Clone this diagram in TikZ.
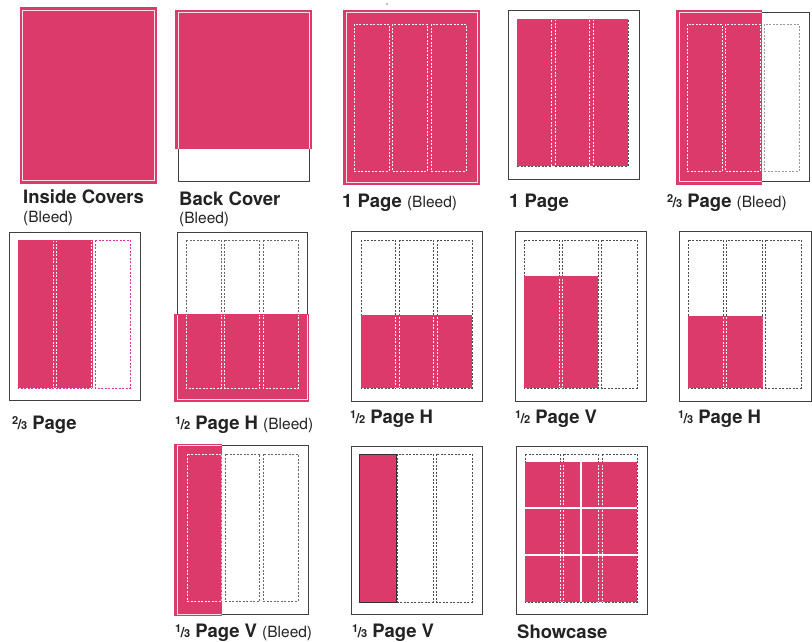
\documentclass[tikz,border=0pt]{standalone}
\usepackage{fontspec}
\setmainfont{TeX Gyre Heros}
\definecolor{pk}{RGB}{221,58,108}
\definecolor{mg}{RGB}{214,50,160}
\definecolor{txt}{RGB}{35,35,35}
\newcommand\dcols[5][black!70]{%
 \pgfmathsetmacro\cw{(#4-#2-7)/3}%
 \pgfmathsetmacro\xa{#2+\cw}%
 \pgfmathsetmacro\xb{#2+\cw+3.5}%
 \pgfmathsetmacro\xc{#2+2*\cw+3.5}%
 \pgfmathsetmacro\xd{#2+2*\cw+7}%
 \draw[dsh,draw=#1] (#2,#3) rectangle (\xa,#5) (\xb,#3) rectangle (\xc,#5) (\xd,#3) rectangle (#4,#5);}
\newcommand\frc[2]{{\fontsize{11}{11}\selectfont\raisebox{5pt}{#1}\kern-0.6pt{\fontsize{14}{14}\selectfont/}\kern-0.6pt#2}}
\newcommand\subt{\fontsize{15.5}{18}\selectfont\mdseries}
\begin{document}
\begin{tikzpicture}[x=1pt,y=-1pt,
 pg/.style={draw=black!75,line width=0.9pt},
 wl/.style={draw=white,opacity=0.85,line width=0.8pt},
 dsh/.style={line width=0.7pt,dash pattern=on 2pt off 1.5pt},
 lbl/.style={anchor=base west,inner sep=0pt,font=\fontsize{18.5}{21}\selectfont\bfseries,text=txt},
 sb/.style={anchor=base west,inner sep=0pt,font=\subt,text=txt}]
\useasboundingbox (0,0) rectangle (812,641);
\fill[white] (0,0) rectangle (812,641);

% A Inside Covers
\fill[pk] (20,7) rectangle (157,184);
\draw[wl] (22,10) rectangle (154,180);
\node[lbl] (tA) at (23,203) {Inside Covers};
\node[sb] (tA2) at (23,222) {(Bleed)};

% B Back Cover
\draw[pg] (178,12) rectangle (309,181);
\fill[pk] (175,10) rectangle (312,149);
\draw[wl] (178,149) -- (178,12) -- (309,12) -- (309,149);
\node[lbl] (tB) at (179,205) {Back Cover};
\node[sb] (tB2) at (179,223) {(Bleed)};

% C 1 Page Bleed
\fill[black!50] (387,4) circle (0.8);
\fill[pk] (343,10) rectangle (480,185);
\draw[wl] (346,12) rectangle (477,182);
\dcols[white]{354}{24}{466}{171}
\node[lbl] (tC) at (342,207) {1 Page\ {\subt(Bleed)}};

% D 1 Page
\draw[pg] (508,10) rectangle (639,179);
\dcols{517}{19}{628}{166}
\fill[pk] (517,19) rectangle (628,166);
\begin{scope}
\clip (518,20) rectangle (627,165);
\dcols[white]{517}{19}{628}{166}
\end{scope}
\node[lbl] (tD) at (509,207) {1 Page};

% E 2/3 Page Bleed
\draw[pg] (679,12) rectangle (809,181);
\dcols[black!40]{687}{24}{799}{171}
\fill[pk] (676,10) rectangle (762,185);
\begin{scope}
\clip (676,10) rectangle (761.5,185);
\draw[wl] (679,12) rectangle (809,181);
\dcols[white]{687}{24}{799}{171}
\end{scope}
\node[lbl] (tE) at (667,207) {\frc23 Page\ {\subt(Bleed)}};

% F 2/3 Page
\draw[pg] (9,232) rectangle (140,400);
\dcols[mg]{18}{240}{130}{388}
\fill[pk] (18,240) rectangle (93,388);
\begin{scope}
\clip (19,241) rectangle (92,387);
\dcols[white]{18}{240}{130}{388}
\end{scope}
\node[lbl] (tF) at (12,429) {\frc23 Page};

% G 1/2 Page H Bleed
\draw[pg] (177,232) rectangle (307,399);
\dcols[black!60]{186}{240}{298}{388}
\fill[pk] (174,314) rectangle (309,402);
\begin{scope}
\clip (174,315) rectangle (309,402);
\draw[wl] (177,232) rectangle (307,399);
\dcols[white]{186}{240}{298}{388}
\end{scope}
\node[lbl] (tG) at (175,429) {\frc12 Page H\ {\subt(Bleed)}};

% H 1/2 Page H
\draw[pg] (351,231) rectangle (482,401);
\dcols{361}{240}{472}{388}
\fill[pk] (361,315) rectangle (472,388);
\begin{scope}
\clip (362,316) rectangle (471,387);
\dcols[white]{361}{240}{472}{388}
\end{scope}
\node[lbl] (tH) at (350,423) {\frc12 Page H};

% I 1/2 Page V
\draw[pg] (515,231) rectangle (646,401);
\dcols{524}{240}{637}{388}
\fill[pk] (524,276) rectangle (598,388);
\begin{scope}
\clip (525,277) rectangle (597,387);
\dcols[white]{524}{240}{637}{388}
\end{scope}
\node[lbl] (tI) at (515,423) {\frc12 Page V};

% J 1/3 Page H
\draw[pg] (679,231) rectangle (811,401);
\dcols{688}{240}{801}{388}
\fill[pk] (688,316) rectangle (763,388);
\begin{scope}
\clip (689,317) rectangle (762,387);
\dcols[white]{688}{240}{801}{388}
\end{scope}
\node[lbl] (tJ) at (678,423) {\frc13 Page H};

% K 1/3 Page V Bleed
\draw[pg] (177,445) rectangle (308,614);
\dcols[black!60]{187}{454}{298}{601}
\fill[pk] (174,444) rectangle (222,616);
\begin{scope}
\clip (174,444) rectangle (221.5,616);
\draw[wl] (177,445) rectangle (308,614);
\dcols[white]{187}{454}{298}{601}
\end{scope}
\node[lbl] (tK) at (175,637) {\frc13 Page V\ {\subt(Bleed)}};

% L 1/3 Page V
\draw[pg] (351,446) rectangle (482,614);
\dcols{359}{454}{472}{602}
\filldraw[fill=pk,draw=black!80,line width=0.8pt] (359,454) rectangle (396,602);
\node[lbl] (tL) at (352,637) {\frc13 Page V};

% M Showcase
\draw[pg] (516,446) rectangle (647,614);
\dcols{525}{454}{637}{602}
\fill[pk] (525,462) rectangle (637,602);
\begin{scope}
\clip (526,463) rectangle (636,601);
\dcols[white]{525}{454}{637}{602}
\end{scope}
\draw[white,line width=2.2pt] (581,462) -- (581,602);
\draw[white,line width=2.2pt] (525,508) -- (637,508) (525,555) -- (637,555);
\node[lbl] (tM) at (517,638) {Showcase};
\end{tikzpicture}
\end{document}
